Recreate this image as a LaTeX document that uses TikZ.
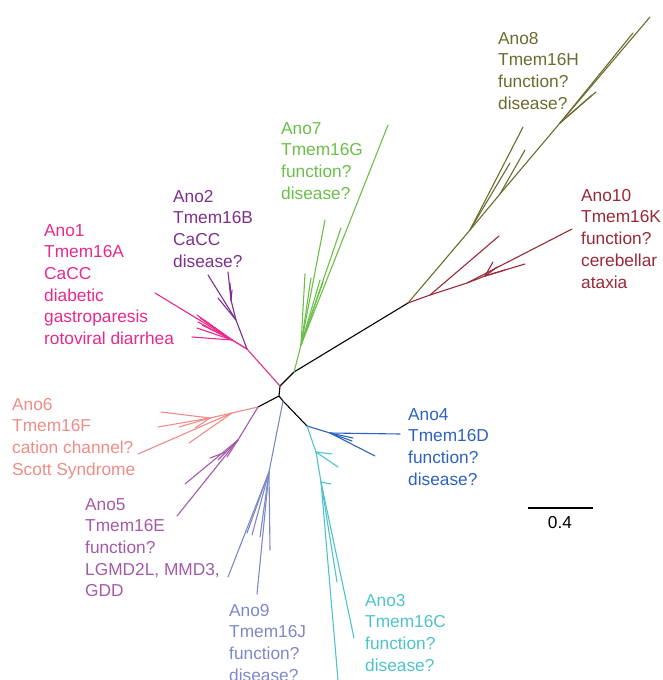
\documentclass[tikz,border=0pt]{standalone}
\usepackage{fontspec}
\setmainfont{Liberation Sans}
\definecolor{cA1}{HTML}{E8298B}
\definecolor{cA2}{HTML}{7E2F8E}
\definecolor{cA7}{HTML}{6BBF48}
\definecolor{cA8}{HTML}{6B6B2E}
\definecolor{cA10}{HTML}{9A2838}
\definecolor{cA6}{HTML}{F08C87}
\definecolor{cA4}{HTML}{2D62BE}
\definecolor{cA5}{HTML}{A459A9}
\definecolor{cA9}{HTML}{7D88C8}
\definecolor{cA3}{HTML}{4EC3CC}
\tikzset{
  br/.style={line width=1.1pt, line cap=round},
  lbl/.style={anchor=north west, inner sep=0pt, align=left, font=\fontsize{17.3}{21.7}\selectfont}
}
\begin{document}
\begin{tikzpicture}[x=1pt,y=-1pt]
\useasboundingbox (0,0) rectangle (662,680);
% backbone
\coordinate (n0) at (280,386);
\coordinate (nA) at (294,372);
\coordinate (nB) at (408,303);
\coordinate (nC) at (279,396);
\coordinate (nD) at (258,407);
\coordinate (nE) at (307,426);
\coordinate (n9) at (283,401);
\draw[br,black] (nB) -- (nA) -- (n0) -- (nC) -- (nD);
\draw[br,black] (nC) -- (n9) -- (nE);
% Ano1 / Ano2
\coordinate (p0) at (247,349);
\coordinate (p1) at (232,340);
\draw[br,cA1] (n0) -- (p0);
\draw[br,cA1] (p0) -- (155,293);
\draw[br,cA1] (p0) -- (p1);
\foreach \t in {(197,315),(200,318),(204,320),(198,322),(197,328),(192,337),(202,325)} \draw[br,cA1] (p1) -- \t;
\coordinate (q1) at (236,320);
\coordinate (q2) at (231,300);
\draw[br,cA2] (p0) -- (q1) -- (q2);
\draw[br,cA2] (q2) -- (228,272);
\draw[br,cA2] (q2) -- (230,283);
\draw[br,cA2] (q2) -- (232,290);
\draw[br,cA2] (q1) -- (218,298);
\draw[br,cA2] (q1) -- (208,275);
% Ano7
\coordinate (g1) at (301,345);
\draw[br,cA7] (nA) -- (g1);
\foreach \t in {(388,125),(341,228),(325,220),(305,274),(311,278),(320,280),(323,282)} \draw[br,cA7] (g1) -- \t;
% Ano8
\coordinate (o1) at (470,230);
\coordinate (o2) at (500,194);
\coordinate (o3) at (560,123);
\draw[br,cA8] (nB) -- (o1) -- (o2) -- (o3);
\draw[br,cA8] (o1) -- (523,127);
\draw[br,cA8] (o1) -- (510,163);
\draw[br,cA8] (o2) -- (525,150);
\foreach \t in {(650,17),(633,33),(592,95),(596,92)} \draw[br,cA8] (o3) -- \t;
% Ano10
\coordinate (r1) at (430,295);
\coordinate (r2) at (467,283);
\coordinate (r3) at (485,276);
\draw[br,cA10] (nB) -- (r1) -- (r2) -- (r3);
\draw[br,cA10] (r1) -- (499,236);
\draw[br,cA10] (r2) -- (572,229);
\foreach \t in {(525,264),(493,262),(497,267),(505,270)} \draw[br,cA10] (r3) -- \t;
% Ano6
\coordinate (s1) at (232,413);
\coordinate (s2) at (210,418);
\draw[br,cA6] (nD) -- (s1) -- (s2);
\draw[br,cA6] (s1) -- (138,454);
\draw[br,cA6] (s1) -- (189,443);
\foreach \t in {(161,412),(158,427),(195,428),(179,427)} \draw[br,cA6] (s2) -- \t;
% Ano5
\coordinate (m1) at (238,440);
\coordinate (m2) at (226,452);
\draw[br,cA5] (nD) -- (m1) -- (m2);
\draw[br,cA5] (m1) -- (177,516);
\draw[br,cA5] (m1) -- (185,484);
\draw[br,cA5] (m1) -- (227,457);
\draw[br,cA5] (m2) -- (210,458);
\draw[br,cA5] (m2) -- (218,460);
% Ano9
\coordinate (l1) at (269,472);
\draw[br,cA9] (n9) -- (l1);
\foreach \t in {(228,577),(257,594),(270,550),(247,533),(252,535),(260,537)} \draw[br,cA9] (l1) -- \t;
% Ano4
\coordinate (b1) at (330,433);
\draw[br,cA4] (nE) -- (b1);
\foreach \t in {(400,434),(375,456),(353,438),(352,441)} \draw[br,cA4] (b1) -- \t;
% Ano3
\coordinate (c1) at (316,452);
\coordinate (c2) at (321,482);
\draw[br,cA3] (nE) -- (c1) -- (c2);
\draw[br,cA3] (c1) -- (332,454);
\draw[br,cA3] (c1) -- (338,467);
\draw[br,cA3] (c2) -- (331,484);
\foreach \t in {(338,680),(354,638),(337,582)} \draw[br,cA3] (c2) -- \t;
% scale bar
\coordinate (sb1) at (528,508);
\coordinate (sb2) at (593,508);
\draw[line width=1.1pt] (sb1) -- (sb2);
\node[inner sep=0pt, font=\fontsize{17.3}{21.7}\selectfont] (sbl) at (560,523) {0.4};
% labels
\node[lbl,text=cA1] (t1) at (44,224) {Ano1\\Tmem16A\\CaCC\\diabetic\\gastroparesis\\rotoviral diarrhea};
\node[lbl,text=cA2] (t2) at (173,190) {Ano2\\Tmem16B\\CaCC\\disease?};
\node[lbl,text=cA7] (t7) at (281,122) {Ano7\\Tmem16G\\function?\\disease?};
\node[lbl,text=cA8] (t8) at (498,32) {Ano8\\Tmem16H\\function?\\disease?};
\node[lbl,text=cA10] (t10) at (581,189) {Ano10\\Tmem16K\\function?\\cerebellar\\ataxia};
\node[lbl,text=cA6] (t6) at (12,398) {Ano6\\Tmem16F\\cation channel?\\Scott Syndrome};
\node[lbl,text=cA4] (t4) at (408,408) {Ano4\\Tmem16D\\function?\\disease?};
\node[lbl,text=cA5] (t5) at (85,498) {Ano5\\Tmem16E\\function?\\LGMD2L, MMD3,\\GDD};
\node[lbl,text=cA9] (t9) at (229,604) {Ano9\\Tmem16J\\function?\\disease?};
\node[lbl,text=cA3] (t3) at (365,594) {Ano3\\Tmem16C\\function?\\disease?};
\end{tikzpicture}
\end{document}
